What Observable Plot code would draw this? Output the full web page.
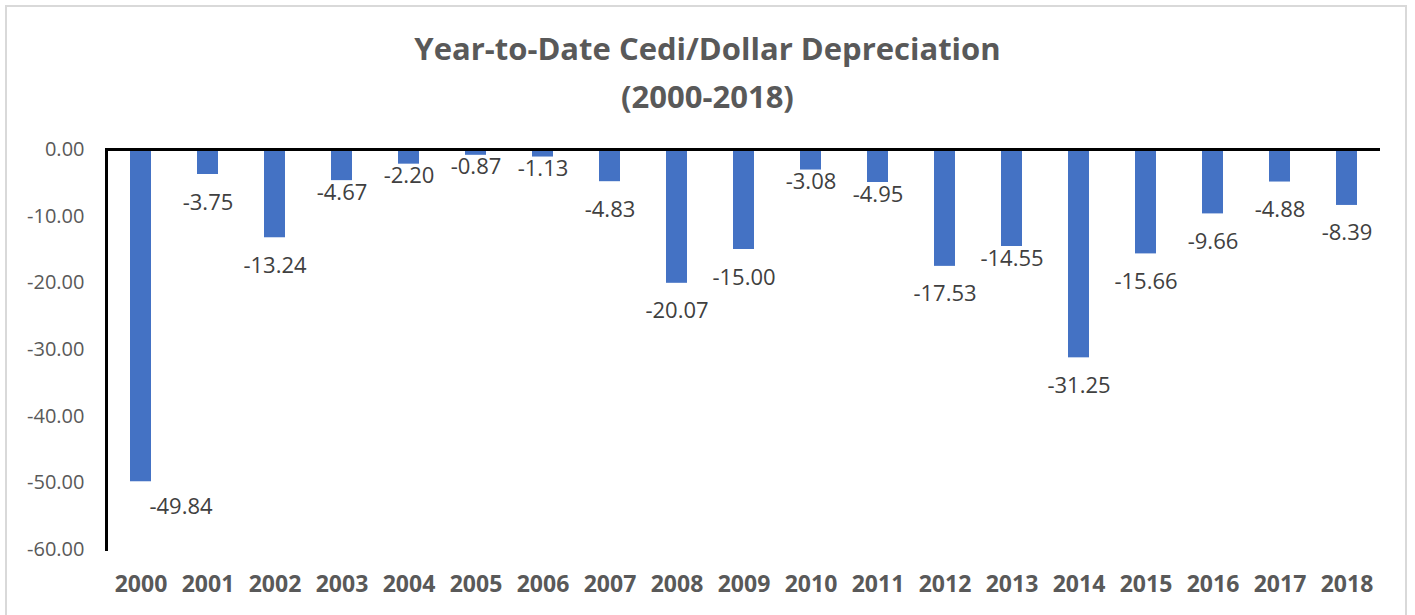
<!DOCTYPE html>
<html>
<head>
<meta charset="utf-8">
<script src="https://cdn.jsdelivr.net/npm/d3@7"></script>
<script src="https://cdn.jsdelivr.net/npm/@observablehq/plot@0.6"></script>
<style>
  html, body { margin: 0; padding: 0; background: #fff; }
  #wrap { position: relative; width: 1415px; height: 615px; overflow: hidden; font-family: "Open Sans", sans-serif; }
  #border { position: absolute; left: 5px; top: 5px; width: 1402px; height: 640px; border: 2px solid #d9d9d9; box-sizing: border-box; }
  #title { position: absolute; left: 0; top: 0; width: 1415px; height: 125px; text-align: center; color: #595959;
           font-weight: bold; font-size: 31px; line-height: 48px; padding-top: 24px; box-sizing: border-box; }
  #chart { position: absolute; left: 0; top: 125px; }
</style>
</head>
<body>
<div id="wrap">
  <div id="border"></div>
  <div id="title">Year-to-Date Cedi/Dollar Depreciation<br>(2000-2018)</div>
  <div id="chart"></div>
</div>
<script>
const years = ["2000","2001","2002","2003","2004","2005","2006","2007","2008","2009",
               "2010","2011","2012","2013","2014","2015","2016","2017","2018"];
const values = [-49.84, -3.75, -13.24, -4.67, -2.20, -0.87, -1.13, -4.83, -20.07, -15.00,
                -3.08, -4.95, -17.53, -14.55, -31.25, -15.66, -9.66, -4.88, -8.39];
const yTicks = [0, -10, -20, -30, -40, -50, -60];

const data = years.map((year, i) => ({year, value: values[i]}));
// Excel placed some labels closer to the bar end
const nearYears = new Set(["2003","2004","2005","2006","2010","2011","2013"]);
const firstYear = years[0];
const fmt = v => v.toFixed(2);

const plot = Plot.plot({
  width: 1415,
  height: 490,
  marginLeft: 106,
  marginRight: 35,
  marginTop: 24,
  marginBottom: 66,
  style: { fontFamily: "Open Sans, sans-serif", background: "transparent" },
  x: { domain: years, paddingInner: 0.69, paddingOuter: 0.345, label: null },
  y: { domain: [-60, 0], label: null },
  marks: [
    Plot.barY(data, { x: "year", y: "value", fill: "#4472C4" }),
    Plot.ruleY([0], { stroke: "#000", strokeWidth: 3 }),
    Plot.frame({ anchor: "left", stroke: "#000", strokeWidth: 3 }),
    Plot.axisY({ ticks: yTicks, tickSize: 0, tickPadding: 22, tickFormat: fmt,
                 fontSize: 20, fill: "#595959", label: null }),
    Plot.axisX({ tickSize: 0, tickPadding: 26, fontSize: 23, fontWeight: "bold",
                 fill: "#595959", label: null }),
    Plot.text(data.filter(d => !nearYears.has(d.year) && d.year !== firstYear),
      { x: "year", y: "value", text: d => fmt(d.value), dy: 28, fontSize: 22, fill: "#404040" }),
    Plot.text(data.filter(d => nearYears.has(d.year)),
      { x: "year", y: "value", text: d => fmt(d.value), dy: 12, fontSize: 22, fill: "#404040" }),
    Plot.text(data.filter(d => d.year === firstYear),
      { x: "year", y: "value", text: d => fmt(d.value), dy: 25, dx: 40, fontSize: 22, fill: "#404040" })
  ]
});
document.getElementById("chart").appendChild(plot);
</script>
</body>
</html>
